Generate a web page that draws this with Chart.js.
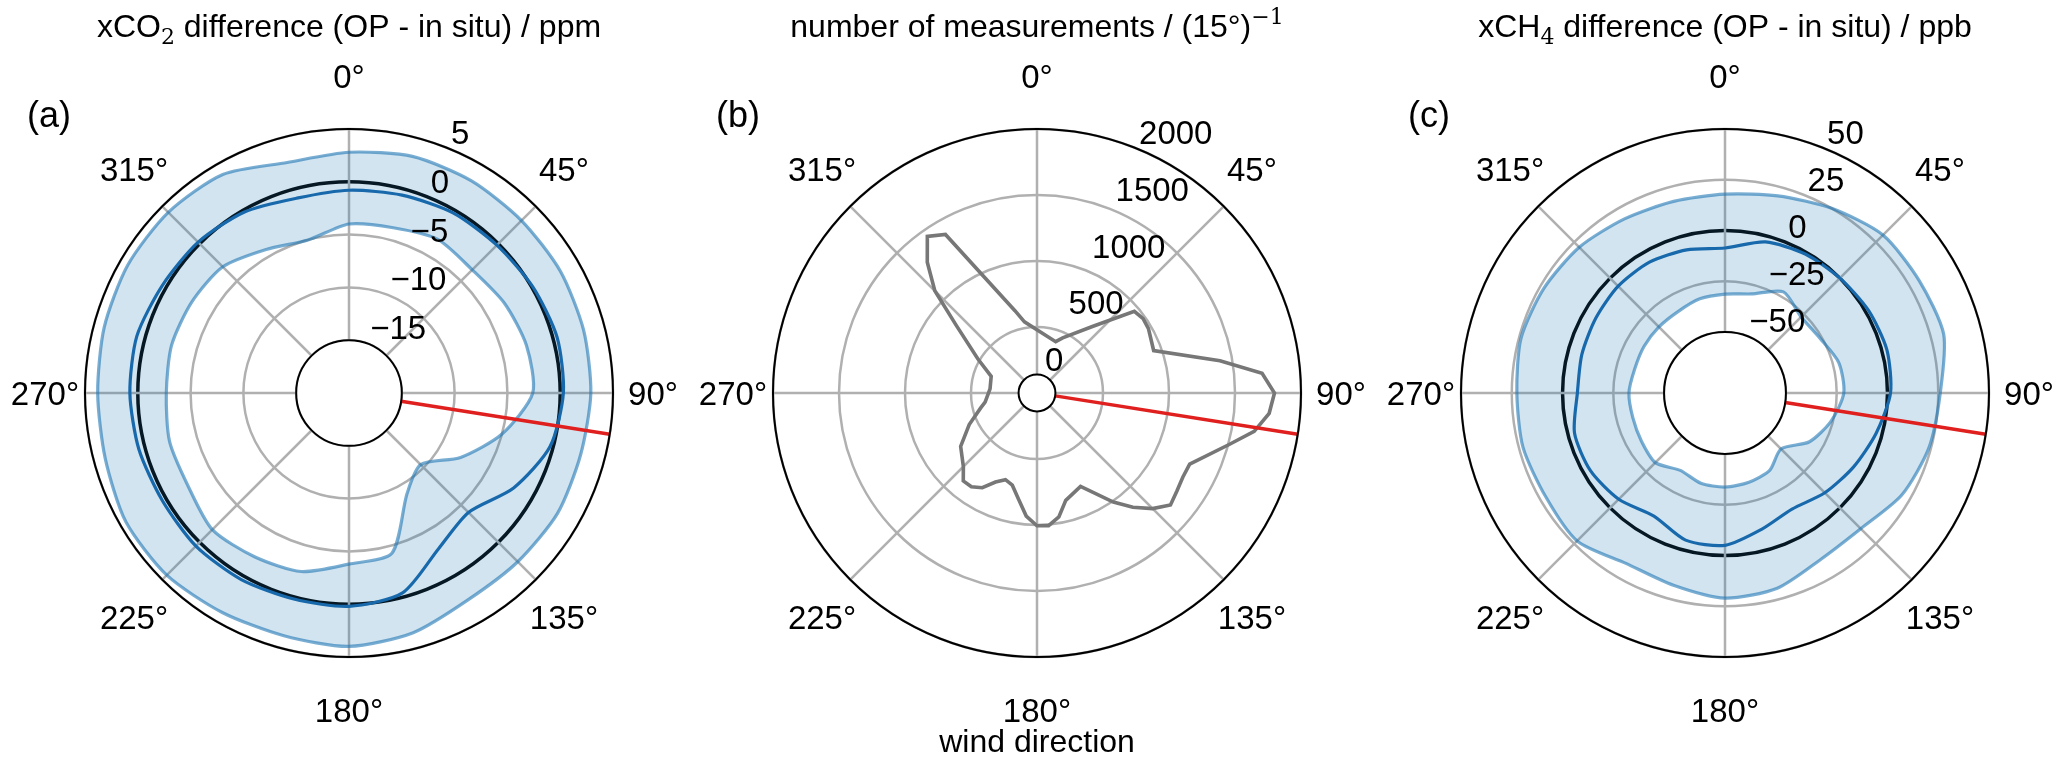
<!DOCTYPE html>
<html>
<head>
<meta charset="utf-8">
<script src="https://cdn.jsdelivr.net/npm/chart.js@4.4.1/dist/chart.umd.min.js"></script>
<style>
  html, body { margin: 0; padding: 0; background: #fff; }
  #wrap { position: relative; width: 2067px; height: 763px; }
  canvas { position: absolute; top: 0; }
</style>
</head>
<body>
<div id="wrap">
  <canvas id="panelA" width="689" height="763" style="left:0px"></canvas>
  <canvas id="panelB" width="689" height="763" style="left:689px"></canvas>
  <canvas id="panelC" width="689" height="763" style="left:1378px"></canvas>
</div>
<script>
// wind direction bins (deg, clockwise from north)
const dirs = [0, 15, 30, 45, 60, 75, 90, 105, 120, 135, 150, 165,
              180, 195, 210, 225, 240, 255, 270, 285, 300, 315, 330, 345];

// xCO2 difference OP - in situ (ppm)
const co2Upper = [2.8, 3.2, 3.2, 3.1, 3.1, 3.0, 2.9, 2.7, 2.8, 2.6, 2.6, 3.5,
                  4.0, 3.8, 4.0, 4.4, 4.4, 3.9, 3.8, 4.0, 4.2, 4.2, 3.9, 2.6];
const co2Mean  = [-0.8, -0.6, -0.3, -0.2, 0.1, 0.4, 0.3, -0.3, -2.0, -4.0, -3.0, -0.4,
                  0.2, 0.2, 0.4, 0.5, 0.4, 0.6, 0.75, 0.8, 0.4, 0.2, -0.2, -0.9];
const co2Lower = [-4.0, -3.8, -3.2, -3.5, -3.0, -2.6, -2.6, -5.0, -7.8, -10.4, -9.0, -4.3,
                  -3.8, -2.5, -2.1, -1.7, -2.4, -2.4, -2.7, -2.6, -2.8, -3.1, -4.3, -5.0];

// xCH4 difference OP - in situ (ppb)
const ch4Upper = [17.9, 20.5, 25, 30, 30.5, 31.5, 26, 24, 20.5, 14.5, 14.5, 19.5,
                  21, 18, 17, 23, 22, 23, 22.5, 24, 23, 21.5, 19, 17.7];
const ch4Mean  = [-8.6, -3, -1, 0, 1.5, 2.5, 1.5, -3, -7, -10.5, -14, -10.5,
                  -5, -5, -10, -6, -3.5, -3.3, -7.3, -7, -6.5, -5.6, -5.6, -7];
const ch4Lower = [-31.3, -29.5, -22.5, -27, -26, -22, -21.5, -26, -32, -41, -36, -34.5,
                  -33.7, -34, -36, -31.5, -32.5, -33, -32.7, -34, -34, -34, -33.7, -32];

// number of measurements per 15 deg
const countDirs   = [20, 25, 40, 50, 55, 60, 70, 80, 85, 90, 95, 100, 105, 115, 120, 125, 130,
                     135, 140, 145, 155, 165, 170, 175, 180, 185, 190, 195, 200, 205, 210, 215,
                     220, 225, 235, 245, 255, 260, 275, 290, 300, 310, 315, 320, 325, 330, 345, 350];
const countValues = [295, 345, 560, 885, 905, 898, 861, 1363, 1690, 1784, 1748, 1646, 1470, 1222, 1221, 1241, 1269,
                     1181, 1065, 934, 689, 755, 875, 935, 931, 856, 725, 627, 601, 650, 741, 782,
                     784, 698, 609, 459, 326, 279, 234, 247, 407, 710, 1027, 1240, 1407, 1341, 544, 438];

const co2Ticks = [-15, -10, -5, 0, 5];
const ch4Ticks = [-50, -25, 0, 25, 50];
const countTicks = [0, 500, 1000, 1500, 2000];
const compassLabels = ['0°', '45°', '90°', '135°', '180°', '225°', '270°', '315°'];
const siteDirection = 99;

const GRID = '#b0b0b0';
const BAND = 'rgba(31,119,180,0.6)';
const FILL = 'rgba(31,119,180,0.2)';
const MEAN = '#1766ab';
const FONT = '"Liberation Sans", Arial, sans-serif';
const MATH = '"DejaVu Serif", serif';

function fmt(v) {
  return v < 0 ? '\u2212' + Math.abs(v) : String(v);
}

function drawRich(ctx, parts, cx, y) {
  let w = 0;
  parts.forEach(p => { ctx.font = p.font; w += ctx.measureText(p.text).width; });
  let x = cx - w / 2;
  parts.forEach(p => {
    ctx.font = p.font;
    ctx.fillText(p.text, x, y + (p.dy || 0));
    x += ctx.measureText(p.text).width;
  });
}

function makeDecor(spec) {
  return {
    id: 'decor',
    afterDatasetsDraw(chart) {
      const r = chart.scales.r;
      const ctx = chart.ctx;
      const cx = r.xCenter, cy = r.yCenter;
      const R = r.getDistanceFromCenterForValue(r.max);
      const hole = r.getDistanceFromCenterForValue(spec.inner);
      const rad = d => (d - 90) * Math.PI / 180;
      ctx.save();

      // direction of the site
      const a = rad(siteDirection);
      ctx.strokeStyle = '#e0201e';
      ctx.lineWidth = 3.5;
      ctx.beginPath();
      ctx.moveTo(cx + hole * Math.cos(a), cy + hole * Math.sin(a));
      ctx.lineTo(cx + R * Math.cos(a), cy + R * Math.sin(a));
      ctx.stroke();

      // inner hole + outer spine
      ctx.beginPath();
      ctx.arc(cx, cy, hole, 0, Math.PI * 2);
      ctx.fillStyle = '#fff';
      ctx.fill();
      ctx.strokeStyle = '#000';
      ctx.lineWidth = 2;
      ctx.stroke();
      ctx.beginPath();
      ctx.arc(cx, cy, R, 0, Math.PI * 2);
      ctx.stroke();

      ctx.fillStyle = '#000';
      // radial tick labels at 22.5 deg
      ctx.font = '33px ' + FONT;
      ctx.textAlign = 'left';
      ctx.textBaseline = 'alphabetic';
      const t = rad(22.5);
      spec.ticks.forEach(v => {
        const d = r.getDistanceFromCenterForValue(v);
        ctx.fillText(fmt(v), cx + d * Math.cos(t) + 1, cy + d * Math.sin(t) - 5);
      });

      // compass labels
      ctx.textAlign = 'center';
      compassLabels.forEach((lab, i) => {
        const b = rad(i * 45);
        ctx.fillText(lab, cx + (R + 40) * Math.cos(b), cy + (R + 53) * Math.sin(b) + 12);
      });

      // title
      ctx.textAlign = 'left';
      drawRich(ctx, spec.title, cx, 37);

      // panel letter
      ctx.font = '36px ' + FONT;
      ctx.fillText(spec.letter, spec.letterX, 127);

      if (spec.xlabel) {
        ctx.font = '32px ' + FONT;
        ctx.textAlign = 'center';
        ctx.fillText(spec.xlabel, cx, 752);
      }
      ctx.restore();
    }
  };
}

function makePanel(id, labels, datasets, sc, decor) {
  return new Chart(document.getElementById(id), {
    type: 'radar',
    data: { labels: labels, datasets: datasets },
    options: {
      responsive: false,
      animation: false,
      devicePixelRatio: 1,
      layout: { padding: { left: sc.left, right: 689 - 528 - sc.left, top: 129, bottom: 106 } },
      plugins: { legend: { display: false }, tooltip: { enabled: false } },
      elements: { point: { radius: 0 } },
      scales: {
        r: {
          min: sc.min,
          max: sc.max,
          ticks: { display: false, stepSize: sc.step },
          pointLabels: { display: false },
          grid: {
            circular: true,
            color: c => (sc.zero && c.tick.value === 0) ? '#000' : GRID,
            lineWidth: c => (sc.zero && c.tick.value === 0) ? 3.5 : 2.5
          },
          angleLines: {
            color: c => c.index % sc.every === 0 ? GRID : 'rgba(0,0,0,0)',
            lineWidth: c => c.index % sc.every === 0 ? 2.5 : 0
          }
        }
      }
    },
    plugins: [makeDecor(decor)]
  });
}

const mainFont = '32px ' + FONT;
const mathFont = '22px ' + MATH;

// (a) xCO2
makePanel('panelA', dirs.map(String), [
  { data: co2Upper, borderColor: BAND, borderWidth: 3.2, backgroundColor: FILL, fill: '+1', tension: 0.25 },
  { data: co2Lower, borderColor: BAND, borderWidth: 3.2, fill: false, tension: 0.25 },
  { data: co2Mean, borderColor: MEAN, borderWidth: 3.2, fill: false, tension: 0.25 }
], { min: -20, max: 5, step: 5, every: 3, zero: true, left: 85 }, {
  inner: -15, ticks: co2Ticks, letter: '(a)', letterX: 27,
  title: [
    { text: 'xCO', font: mainFont },
    { text: '2', font: mathFont, dy: 7 },
    { text: ' difference (OP - in situ) / ppm', font: mainFont }
  ]
});

// (b) number of measurements
const countLabels = [];
const countData = [];
for (let d = 0; d < 360; d += 5) { countLabels.push(String(d)); countData.push(null); }
countDirs.forEach((d, i) => { countData[d / 5] = countValues[i]; });

makePanel('panelB', countLabels, [
  { data: countData, borderColor: '#777777', borderWidth: 3.6, fill: false, spanGaps: true, tension: 0 }
], { min: -150, max: 2000, step: 500, every: 9, zero: false, left: 84 }, {
  inner: 0, ticks: countTicks, letter: '(b)', letterX: 27, xlabel: 'wind direction',
  title: [
    { text: 'number of measurements / (15°)', font: mainFont },
    { text: '\u22121', font: mathFont, dy: -13 }
  ]
});

// (c) xCH4
makePanel('panelC', dirs.map(String), [
  { data: ch4Upper, borderColor: BAND, borderWidth: 3.2, backgroundColor: FILL, fill: '+1', tension: 0.25 },
  { data: ch4Lower, borderColor: BAND, borderWidth: 3.2, fill: false, tension: 0.25 },
  { data: ch4Mean, borderColor: MEAN, borderWidth: 3.2, fill: false, tension: 0.25 }
], { min: -80, max: 50, step: 25, every: 3, zero: true, left: 83 }, {
  inner: -50, ticks: ch4Ticks, letter: '(c)', letterX: 30,
  title: [
    { text: 'xCH', font: mainFont },
    { text: '4', font: mathFont, dy: 7 },
    { text: ' difference (OP - in situ) / ppb', font: mainFont }
  ]
});
</script>
</body>
</html>
